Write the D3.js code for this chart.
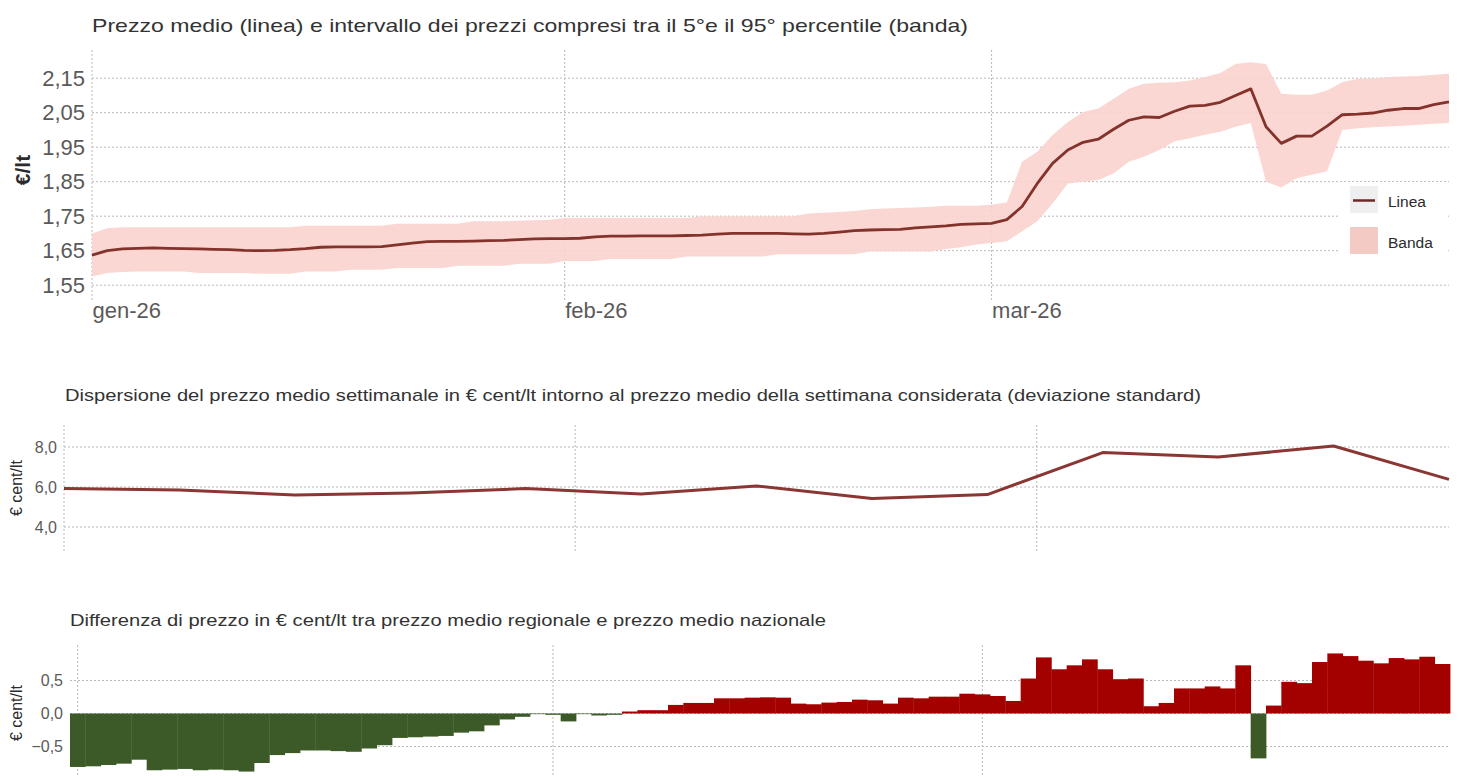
<!DOCTYPE html>
<html><head><meta charset="utf-8">
<script src="https://cdn.jsdelivr.net/npm/d3@7"></script>
<style>html,body{margin:0;padding:0;background:#fff;}svg{display:block;font-family:"Liberation Sans",Arial,sans-serif;}</style>
</head><body>
<svg id="c" width="1459" height="776"></svg>
<script>
// ---------- DATA ----------
const startDate = new Date(2026, 0, 1);
const monthTickLabels = ["gen-26", "feb-26", "mar-26"];
const topTitle = "Prezzo medio (linea) e intervallo dei prezzi compresi tra il 5°e il 95° percentile (banda)";
const midTitle = "Dispersione del prezzo medio settimanale in € cent/lt intorno al prezzo medio della settimana considerata (deviazione standard)";
const botTitle = "Differenza di prezzo in € cent/lt tra prezzo medio regionale e prezzo medio nazionale";
const legendLabels = ["Linea", "Banda"];
const priceTicks = [1.55, 1.65, 1.75, 1.85, 1.95, 2.05, 2.15];
const stdTicks = [4.0, 6.0, 8.0];
const diffTicks = [-0.5, 0.0, 0.5];

const meanPrice = [1.637,1.650,1.655,1.657,1.658,1.657,1.656,1.655,1.654,1.653,
  1.651,1.650,1.651,1.653,1.656,1.660,1.661,1.661,1.661,1.662,
  1.667,1.672,1.676,1.677,1.677,1.678,1.679,1.680,1.682,1.684,
  1.685,1.685,1.686,1.690,1.692,1.692,1.693,1.693,1.693,1.694,
  1.695,1.698,1.700,1.700,1.700,1.700,1.699,1.698,1.700,1.704,
  1.708,1.710,1.711,1.712,1.716,1.719,1.722,1.726,1.728,1.729,
  1.740,1.778,1.845,1.903,1.942,1.964,1.973,2.002,2.028,2.038,
  2.036,2.054,2.069,2.071,2.080,2.100,2.119,2.009,1.961,1.982,
  1.982,2.011,2.044,2.046,2.049,2.057,2.062,2.062,2.073,2.081];
const lowerP5 = [1.575,1.585,1.588,1.590,1.590,1.590,1.590,1.585,1.585,1.585,
  1.585,1.583,1.583,1.583,1.590,1.590,1.590,1.595,1.595,1.595,
  1.600,1.600,1.600,1.600,1.606,1.606,1.606,1.606,1.612,1.612,
  1.612,1.620,1.620,1.620,1.626,1.626,1.626,1.626,1.626,1.633,
  1.633,1.633,1.633,1.633,1.633,1.640,1.640,1.640,1.640,1.640,
  1.640,1.648,1.648,1.648,1.648,1.648,1.655,1.660,1.668,1.672,
  1.677,1.706,1.735,1.787,1.845,1.850,1.855,1.874,1.908,1.922,
  1.942,1.967,1.976,1.986,1.995,2.009,2.020,1.850,1.833,1.860,
  1.870,1.880,2.000,2.005,2.008,2.010,2.012,2.015,2.018,2.020];
const upperP95 = [1.700,1.715,1.718,1.718,1.718,1.718,1.718,1.718,1.718,1.718,
  1.718,1.718,1.718,1.718,1.722,1.722,1.722,1.722,1.722,1.722,
  1.728,1.728,1.728,1.728,1.728,1.735,1.735,1.735,1.737,1.738,
  1.740,1.745,1.745,1.745,1.745,1.745,1.745,1.745,1.745,1.745,
  1.750,1.750,1.750,1.750,1.750,1.750,1.750,1.758,1.760,1.762,
  1.765,1.770,1.772,1.774,1.775,1.777,1.780,1.780,1.780,1.783,
  1.790,1.908,1.937,1.985,2.023,2.052,2.062,2.090,2.119,2.134,
  2.137,2.138,2.143,2.153,2.165,2.191,2.196,2.191,2.105,2.102,
  2.102,2.114,2.138,2.148,2.150,2.153,2.155,2.156,2.160,2.163];
const weeklyStd = [5.93,5.85,5.60,5.70,5.92,5.65,6.05,5.42,5.62,7.72,7.50,8.05,6.38];
const regionalDiff = [-0.81,-0.80,-0.78,-0.76,-0.70,-0.86,-0.85,-0.84,-0.86,-0.85,
  -0.86,-0.88,-0.75,-0.63,-0.60,-0.56,-0.56,-0.57,-0.58,-0.53,
  -0.48,-0.37,-0.36,-0.35,-0.34,-0.29,-0.27,-0.18,-0.09,-0.05,
  -0.01,-0.02,-0.12,-0.01,-0.03,-0.02,0.03,0.05,0.05,0.13,
  0.16,0.16,0.23,0.23,0.24,0.245,0.24,0.15,0.14,0.165,
  0.175,0.21,0.20,0.15,0.24,0.23,0.255,0.255,0.30,0.29,
  0.265,0.19,0.53,0.85,0.67,0.73,0.82,0.67,0.52,0.53,
  0.11,0.16,0.38,0.38,0.41,0.38,0.73,-0.68,0.12,0.48,
  0.46,0.78,0.91,0.87,0.80,0.76,0.84,0.82,0.86,0.75];

// ---------- DERIVED ----------
const days = meanPrice.map((_, i) => d3.timeDay.offset(startDate, i));
const weeks = weeklyStd.map((_, i) => d3.timeDay.offset(startDate, 7 * i));
const monthStarts = [new Date(2026,0,1), new Date(2026,1,1), new Date(2026,2,1)];
const itFmt = d3.formatLocale({decimal: ",", thousands: ".", grouping: [3], currency: ["€", ""]});

const svg = d3.select("#c");
const gridCol = "#b8b8b8";
const textCol = "#333333";
const tickCol = "#5a5a5a";

function title(txt, x, y, size, width) {
  svg.append("text").attr("x", x).attr("y", y).attr("font-size", size)
    .attr("fill", textCol).attr("textLength", width).attr("lengthAdjust", "spacingAndGlyphs").text(txt);
}

// ===== TOP CHART =====
const xT = d3.scaleTime().domain([days[0], days[days.length-1]]).range([92, 1449]);
const yT = d3.scaleLinear().domain([1.51, 2.22]).range([299, 54]);
title(topTitle, 92, 32, 19, 876);

const gT = svg.append("g");
gT.append("g").selectAll("line").data(priceTicks).join("line")
  .attr("x1", 92).attr("x2", 1449).attr("y1", d => yT(d)).attr("y2", d => yT(d))
  .attr("stroke", gridCol).attr("stroke-width", 1).attr("stroke-dasharray", "2,2");
gT.append("g").selectAll("line").data(monthStarts).join("line")
  .attr("x1", d => xT(d)).attr("x2", d => xT(d)).attr("y1", 50).attr("y2", 300)
  .attr("stroke", gridCol).attr("stroke-width", 1).attr("stroke-dasharray", "2,2");

const area = d3.area().x((d, i) => xT(days[i])).y0((d, i) => yT(lowerP5[i])).y1((d, i) => yT(upperP95[i]));
gT.append("path").datum(meanPrice).attr("d", area).attr("fill", "#f9d3cd").attr("fill-opacity", 0.9);
const line = d3.line().x((d, i) => xT(days[i])).y(d => yT(d));
gT.append("path").datum(meanPrice).attr("d", line).attr("fill", "none")
  .attr("stroke", "#83322c").attr("stroke-width", 2.8).attr("stroke-linejoin", "round");

const axYT = d3.axisLeft(yT).tickValues(priceTicks).tickFormat(itFmt.format(".2f")).tickSize(0).tickPadding(7);
const gAy = svg.append("g").attr("transform", "translate(92,0)").call(axYT);
gAy.select(".domain").remove();
gAy.selectAll("text").attr("font-size", 22).attr("fill", tickCol).attr("font-family", "Liberation Sans, Arial");

const axXT = d3.axisBottom(xT).tickValues(monthStarts).tickFormat((d, i) => monthTickLabels[i]).tickSize(0).tickPadding(0);
const gAx = svg.append("g").attr("transform", "translate(0,300)").call(axXT);
gAx.select(".domain").remove();
gAx.selectAll("text").attr("font-size", 22).attr("fill", tickCol).attr("text-anchor", "start")
  .attr("dy", 0).attr("y", 18).attr("font-family", "Liberation Sans, Arial");

svg.append("text").attr("transform", "translate(30,170) rotate(-90)").attr("text-anchor", "middle")
  .attr("font-size", 21).attr("font-weight", "bold").attr("fill", "#2b2b2b").text("€/lt");

// legend
const lg = svg.append("g");
lg.append("rect").attr("x", 1338).attr("y", 182).attr("width", 108).attr("height", 75).attr("fill", "#fff");
lg.append("rect").attr("x", 1350).attr("y", 186).attr("width", 28).attr("height", 27).attr("fill", "#efefef");
lg.append("line").attr("x1", 1353).attr("x2", 1375).attr("y1", 200.5).attr("y2", 200.5).attr("stroke", "#6e2a26").attr("stroke-width", 2.5);
lg.append("rect").attr("x", 1350).attr("y", 227).attr("width", 28).attr("height", 27).attr("fill", "#f3cbc4");
lg.selectAll("text.l").data(legendLabels).join("text").attr("class", "l")
  .attr("x", 1388).attr("y", (d, i) => 207 + i * 41).attr("font-size", 15.5).attr("fill", "#2b2b2b").text(d => d);

// ===== MIDDLE CHART =====
const xM = d3.scaleTime().domain([weeks[0], weeks[weeks.length-1]]).range([64, 1449]);
const yM = d3.scaleLinear().domain([2.7, 9.1]).range([553, 425]);
title(midTitle, 65, 401, 17, 1136);
const gM = svg.append("g");
gM.append("g").selectAll("line").data(stdTicks).join("line")
  .attr("x1", 64).attr("x2", 1449).attr("y1", d => yM(d)).attr("y2", d => yM(d))
  .attr("stroke", gridCol).attr("stroke-dasharray", "2,2");
gM.append("g").selectAll("line").data(monthStarts).join("line")
  .attr("x1", d => xM(d)).attr("x2", d => xM(d)).attr("y1", 425).attr("y2", 553)
  .attr("stroke", gridCol).attr("stroke-dasharray", "2,2");
const lineM = d3.line().x((d, i) => xM(weeks[i])).y(d => yM(d));
gM.append("path").datum(weeklyStd).attr("d", lineM).attr("fill", "none")
  .attr("stroke", "#8a3733").attr("stroke-width", 3).attr("stroke-linejoin", "round");
const axYM = d3.axisLeft(yM).tickValues(stdTicks).tickFormat(itFmt.format(".1f")).tickSize(0).tickPadding(7);
const gMy = svg.append("g").attr("transform", "translate(64,0)").call(axYM);
gMy.select(".domain").remove();
gMy.selectAll("text").attr("font-size", 16).attr("fill", tickCol).attr("font-family", "Liberation Sans, Arial");
svg.append("text").attr("transform", "translate(22,488) rotate(-90)").attr("text-anchor", "middle")
  .attr("font-size", 16).attr("fill", "#2b2b2b").text("€ cent/lt");

// ===== BOTTOM CHART =====
const xB = d3.scaleBand().domain(days).range([70, 1450]).padding(0);
const yB = d3.scaleLinear().domain([-0.95, 1.0]).range([776.2, 647.5]);
title(botTitle, 70, 626, 17, 756);
const gB = svg.append("g");
gB.append("g").selectAll("line").data(diffTicks).join("line")
  .attr("x1", 70).attr("x2", 1450).attr("y1", d => yB(d)).attr("y2", d => yB(d))
  .attr("stroke", gridCol).attr("stroke-dasharray", "2,2");
gB.append("g").selectAll("line").data(monthStarts).join("line")
  .attr("x1", d => xB(d) + xB.bandwidth()/2).attr("x2", d => xB(d) + xB.bandwidth()/2)
  .attr("y1", 645).attr("y2", 776)
  .attr("stroke", gridCol).attr("stroke-dasharray", "2,2");
gB.append("g").selectAll("rect").data(regionalDiff).join("rect")
  .attr("x", (d, i) => xB(days[i]))
  .attr("width", xB.bandwidth() + 0.4)
  .attr("y", d => yB(Math.max(0, d)))
  .attr("height", d => Math.abs(yB(d) - yB(0)))
  .attr("fill", d => d >= 0 ? "#a30000" : "#3b5a27");
const axYB = d3.axisLeft(yB).tickValues(diffTicks).tickFormat(itFmt.format(".1f")).tickSize(0).tickPadding(7);
const gBy = svg.append("g").attr("transform", "translate(70,0)").call(axYB);
gBy.select(".domain").remove();
gBy.selectAll("text").attr("font-size", 16).attr("fill", tickCol).attr("font-family", "Liberation Sans, Arial");
svg.append("text").attr("transform", "translate(22,713) rotate(-90)").attr("text-anchor", "middle")
  .attr("font-size", 16).attr("fill", "#2b2b2b").text("€ cent/lt");
</script>
</body></html>
